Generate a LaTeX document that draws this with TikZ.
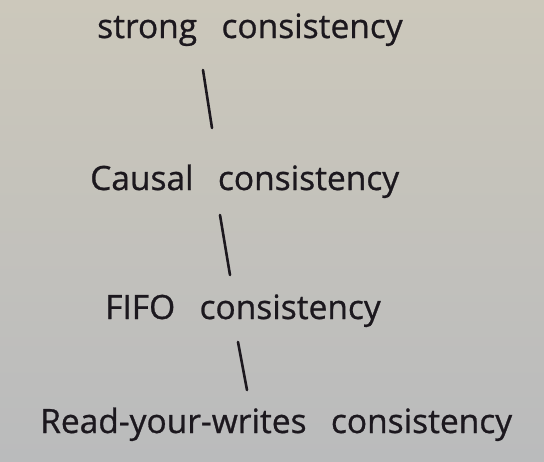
\documentclass[tikz,border=0pt]{standalone}
\usepackage{fontspec}
\setmainfont{Open Sans}
\newfontfamily\markerfont{Open Sans}[FakeBold=0.8, WordSpace=2.8]
\usetikzlibrary{positioning}
\definecolor{boardtop}{RGB}{204,200,187}
\definecolor{boardbottom}{RGB}{186,187,188}
\definecolor{marker}{RGB}{28,24,30}
\tikzset{
  level/.style = {anchor = base west, inner sep = 0pt, text = marker,
                  font = \markerfont\fontsize{33.5}{38}\selectfont},
  link/.style  = {draw = marker, line width = 2.6pt, line cap = round}
}
\begin{document}
\begin{tikzpicture}[x=1pt, y=-1pt]
  \shade [top color = boardtop, bottom color = boardbottom] (0,0) rectangle (544,461);
  \useasboundingbox (0,0) rectangle (544,461);

  \node [level] (strong) at (97,38)  {strong consistency};
  \node [level] (causal) at (90,190) {Causal consistency};
  \node [level] (fifo)   at (105,319) {FIFO consistency};
  \node [level] (ryw)    at (40,433) {Read-your-writes consistency};

  \path [link]
        ([shift={(106,32)}]strong.base west) edge ([shift={(122,-62)}]causal.base west)
        ([shift={(130,25)}]causal.base west) edge ([shift={(125,-44)}]fifo.base west)
        ([shift={(133,23)}]fifo.base west)   edge ([shift={(207,-43)}]ryw.base west);
\end{tikzpicture}
\end{document}
